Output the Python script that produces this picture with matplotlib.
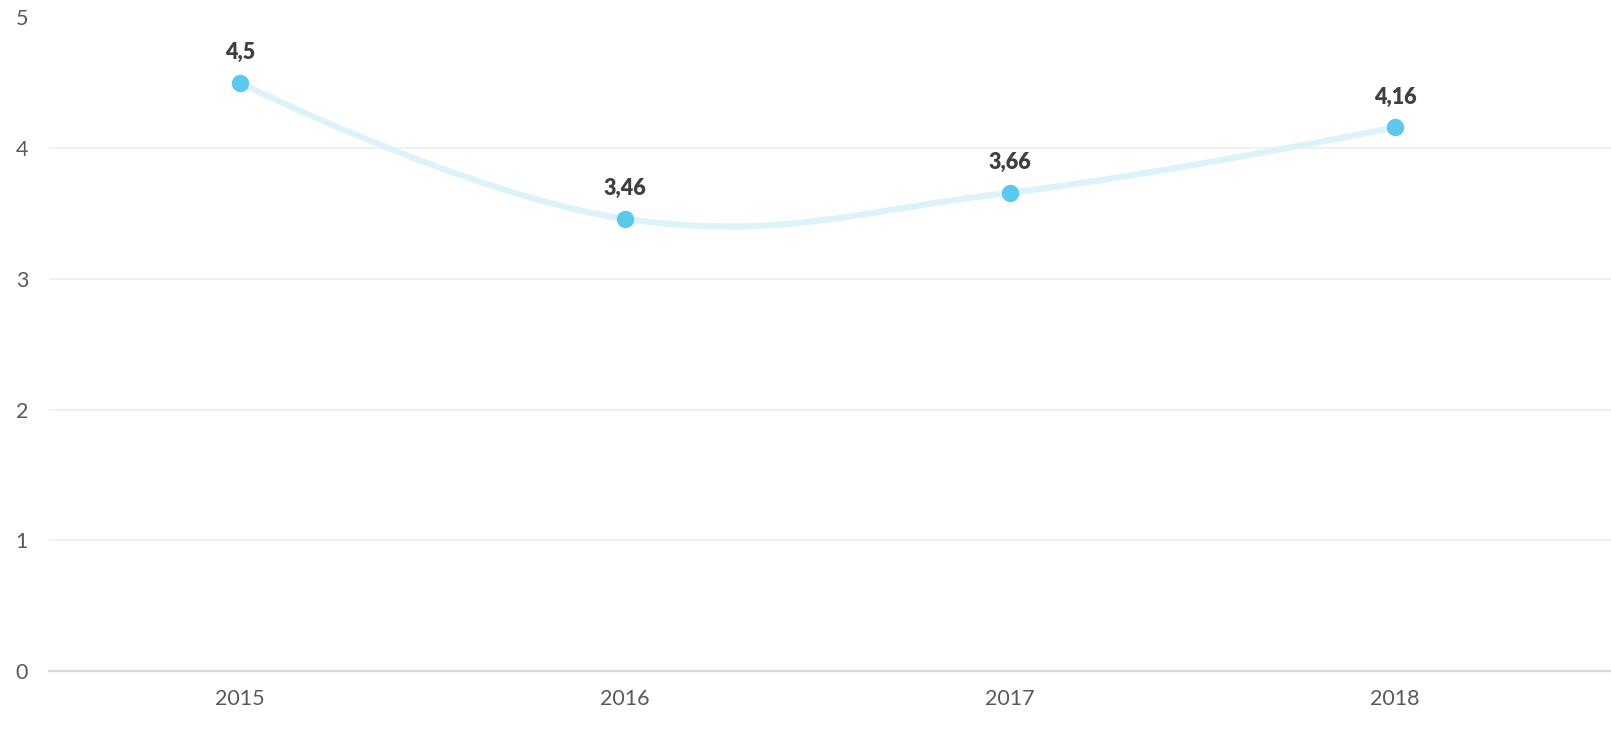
import matplotlib
matplotlib.use("Agg")
import matplotlib.pyplot as plt
from matplotlib.path import Path
from matplotlib.patches import PathPatch

categories = ["2015", "2016", "2017", "2018"]
values = [4.5, 3.46, 3.66, 4.16]
labels = ["4,5", "3,46", "3,66", "4,16"]
yticks = [0, 1, 2, 3, 4, 5]

W, H, DPI = 1611, 734, 100
fig = plt.figure(figsize=(W / DPI, H / DPI), dpi=DPI)
left, right = 49 / W, 1611 / W
bottom, top = 1 - 671 / H, 1 - 17.5 / H
ax = fig.add_axes([left, bottom, right - left, top - bottom])

FONT = ["Lato", "DejaVu Sans"]

# cardinal-style spline (smoothing 1.5), no clamping
xs = list(range(len(values)))
ys = values
sm = 1.5
den = sm + 1
lc = [None] * len(xs)
rc = [None] * len(xs)
for i in range(len(xs)):
    if 0 < i < len(xs) - 1:
        lx = (sm * xs[i] + xs[i - 1]) / den
        ly = (sm * ys[i] + ys[i - 1]) / den
        rx = (sm * xs[i] + xs[i + 1]) / den
        ry = (sm * ys[i] + ys[i + 1]) / den
        corr = ((ry - ly) * (rx - xs[i])) / (rx - lx) + ys[i] - ry
        lc[i] = (lx, ly + corr)
        rc[i] = (rx, ry + corr)
    else:
        lc[i] = (xs[i], ys[i])
        rc[i] = (xs[i], ys[i])

verts = [(xs[0], ys[0])]
codes = [Path.MOVETO]
for i in range(1, len(xs)):
    verts += [rc[i - 1], lc[i], (xs[i], ys[i])]
    codes += [Path.CURVE4] * 3
path = Path(verts, codes)
ax.add_patch(PathPatch(path, facecolor="none", edgecolor="#DDF3FB", lw=4.5,
                       capstyle="round", joinstyle="round", zorder=3))

ax.plot(xs, ys, linestyle="none", marker="o", markersize=11.5,
        markerfacecolor="#5BC8EE", markeredgecolor="#5BC8EE", zorder=4)

for x, y, t in zip(xs, ys, labels):
    ax.annotate(t, (x, y), xytext=(0, 17), textcoords="offset points",
                ha="center", va="baseline", fontsize=15.5, fontweight="heavy",
                color="#404040", family=FONT, zorder=5)

ax.set_xlim(-0.496, 3.561)
ax.set_ylim(0, 5)
ax.set_yticks(yticks)
ax.set_yticklabels([str(v) for v in yticks])
ax.set_xticks(xs)
ax.set_xticklabels(categories)

for v in yticks[1:]:
    ax.axhline(v, color="#EEEEEE", lw=1.2, zorder=1)
ax.axhline(0, color="#D9D9D9", lw=1.6, zorder=2, clip_on=False)

for s in ax.spines.values():
    s.set_visible(False)
ax.tick_params(axis="both", length=0, labelsize=15.5, labelcolor="#595959")
ax.tick_params(axis="y", pad=15)
ax.tick_params(axis="x", pad=13)
for lab in ax.get_xticklabels() + ax.get_yticklabels():
    lab.set_family(FONT)

fig.savefig("out.png", dpi=DPI, facecolor="white")
